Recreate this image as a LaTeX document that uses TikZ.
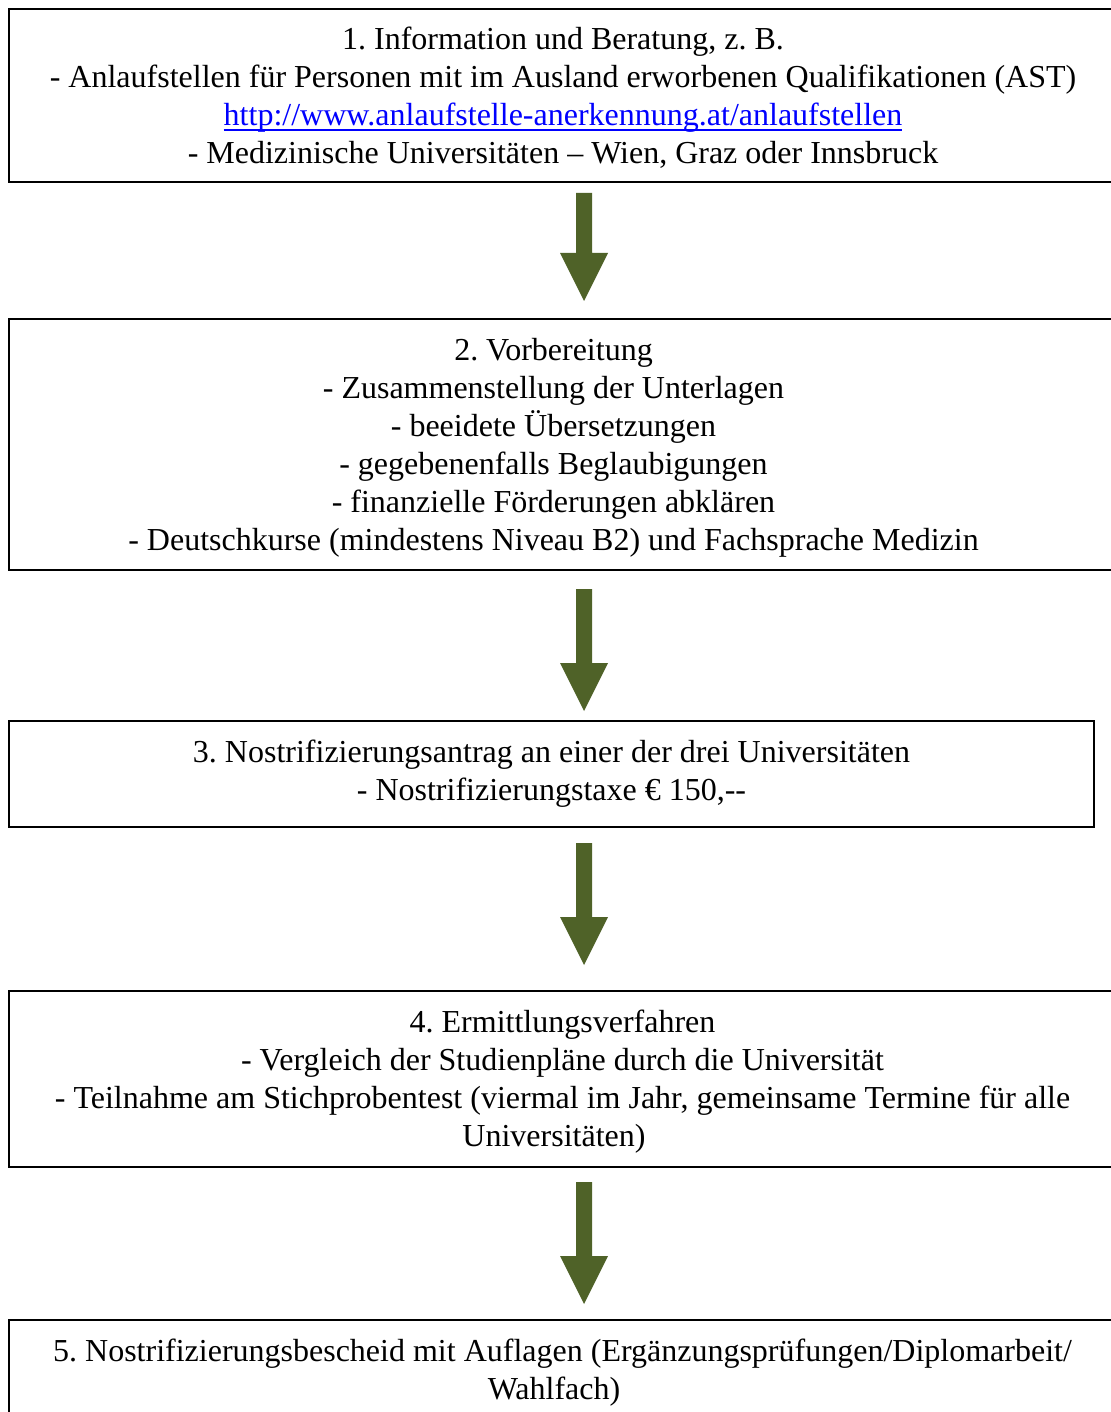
\documentclass[tikz,border=0pt]{standalone}
\usepackage{fontspec}
\setmainfont{Liberation Serif}
\definecolor{arrowgreen}{HTML}{4F6228}
\definecolor{linkblue}{HTML}{0000FF}
\newcommand\blockarrow[2]{%
  \fill[flow] ([xshift=-8pt]#1) -- ([xshift=8pt]#1) -- ([xshift=8pt,yshift=48pt]#2)
    -- ([xshift=24pt,yshift=48pt]#2) -- (#2) -- ([xshift=-24pt,yshift=48pt]#2)
    -- ([xshift=-8pt,yshift=48pt]#2) -- cycle;}
\newcommand\ulink[1]{{\color{linkblue}\setbox0\hbox{#1}\rlap{\rule[-5pt]{\wd0}{1.8pt}}\box0}}
\begin{document}
\begin{tikzpicture}[x=1pt,y=-1pt,
  stepbox/.style={draw, line width=1.5pt, rectangle, inner sep=0pt},
  steptext/.style={inner sep=0pt, align=center,
    font=\fontsize{32}{38}\selectfont\frenchspacing},
  flow/.style={fill=arrowgreen}]
\useasboundingbox (0,0) rectangle (1110,1412);
\fill[white] (0,0) rectangle (1110,1412);

\node[stepbox, minimum width=1108pt, minimum height=173pt] (b1) at (563,95.5) {};
\node[steptext] (t1) at (563,98)
  {1. Information und Beratung, z. B.\\
   - Anlaufstellen für Personen mit im Ausland erworbenen Qualifikationen (AST)\\
   \ulink{http://www.anlaufstelle-anerkennung.at/anlaufstellen}\\
   - Medizinische Universitäten – Wien, Graz oder Innsbruck};

\node[stepbox, minimum width=1108pt, minimum height=251pt] (b2) at (563,444.5) {};
\node[steptext] (t2) at (553.5,447.5)
  {2. Vorbereitung\\
   - Zusammenstellung der Unterlagen\\
   - beeidete Übersetzungen\\
   - gegebenenfalls Beglaubigungen\\
   - finanzielle Förderungen abklären\\
   - Deutschkurse (mindestens Niveau B2) und Fachsprache Medizin};

\node[stepbox, minimum width=1085pt, minimum height=106pt] (b3) at (551.5,774) {};
\node[steptext] (t3) at (551.5,774)
  {3. Nostrifizierungsantrag an einer der drei Universitäten\\
   - Nostrifizierungstaxe € 150,-{}-};

\node[stepbox, minimum width=1108pt, minimum height=176pt] (b4) at (563,1079) {};
\node[steptext] (t4) at (562.5,1082)
  {4. Ermittlungsverfahren\\
   - Vergleich der Studienpläne durch die Universität\\
   - Teilnahme am Stichprobentest (viermal im Jahr, gemeinsame Termine für alle\\
   Universitäten)\hspace*{17pt}};

\node[stepbox, minimum width=1108pt, minimum height=100pt] (b5) at (563,1370) {};
\node[steptext] (t5) at (562.5,1373)
  {5. Nostrifizierungsbescheid mit Auflagen (Ergänzungsprüfungen/Diplomarbeit/\\
   Wahlfach)\hspace*{17pt}};

\coordinate (a1s) at (584,193);  \coordinate (a1e) at (584,301);
\coordinate (a2s) at (584,589);  \coordinate (a2e) at (584,711);
\coordinate (a3s) at (584,843);  \coordinate (a3e) at (584,965);
\coordinate (a4s) at (584,1182); \coordinate (a4e) at (584,1304);
\blockarrow{a1s}{a1e}
\blockarrow{a2s}{a2e}
\blockarrow{a3s}{a3e}
\blockarrow{a4s}{a4e}
\end{tikzpicture}
\end{document}
